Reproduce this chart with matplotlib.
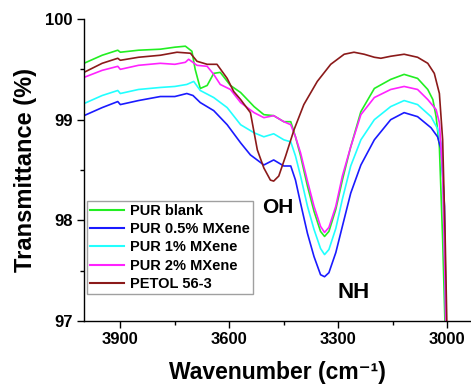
import matplotlib
matplotlib.use("Agg")
import matplotlib.pyplot as plt
from matplotlib.ticker import MultipleLocator

plt.rcParams["font.family"] = ["Liberation Sans", "DejaVu Sans"]
plt.rcParams["font.weight"] = "bold"

# FTIR transmittance, wavenumber (cm-1) vs T (%)
WN_BLANK = [4000, 3950, 3907, 3900, 3850, 3790, 3750, 3721, 3703, 3694, 3680, 3661, 3643,
            3625, 3597, 3569, 3532, 3505, 3478, 3450, 3431, 3418, 3404, 3385, 3367, 3349,
            3338, 3326, 3307, 3289, 3266, 3238, 3201, 3156, 3119, 3082, 3054, 3040, 3031,
            3022, 3013, 3006, 3000]
T_BLANK = [99.56, 99.64, 99.69, 99.67, 99.69, 99.70, 99.72, 99.73, 99.68, 99.50, 99.31,
           99.34, 99.46, 99.47, 99.34, 99.27, 99.13, 99.05, 99.04, 98.98, 98.98, 98.83,
           98.64, 98.34, 98.09, 97.89, 97.84, 97.89, 98.11, 98.40, 98.73, 99.08, 99.31,
           99.40, 99.45, 99.41, 99.30, 99.20, 99.03, 98.73, 97.81, 96.9, 96.0]

WN_05 = [4000, 3950, 3907, 3900, 3850, 3790, 3750, 3717, 3700, 3680, 3643, 3606, 3569,
         3542, 3505, 3478, 3450, 3431, 3418, 3404, 3385, 3367, 3349, 3338, 3326, 3307,
         3289, 3266, 3238, 3201, 3156, 3119, 3082, 3045, 3027, 3017, 3008, 3004, 3000]
T_05 = [99.04, 99.12, 99.18, 99.15, 99.19, 99.23, 99.23, 99.26, 99.24, 99.17, 99.09,
        98.95, 98.77, 98.65, 98.55, 98.60, 98.54, 98.54, 98.40, 98.17, 97.87, 97.64,
        97.46, 97.44, 97.48, 97.68, 97.94, 98.27, 98.55, 98.80, 99.00, 99.07, 99.03,
        98.92, 98.83, 98.70, 98.14, 97.0, 96.0]

WN_1 = [4000, 3950, 3907, 3900, 3850, 3790, 3750, 3717, 3698, 3680, 3643, 3606, 3569,
        3532, 3505, 3478, 3450, 3431, 3418, 3404, 3385, 3367, 3349, 3338, 3326, 3307,
        3289, 3266, 3238, 3201, 3156, 3119, 3082, 3045, 3027, 3017, 3011, 3005, 3000]
T_1 = [99.16, 99.24, 99.29, 99.26, 99.30, 99.32, 99.33, 99.35, 99.38, 99.29, 99.22,
       99.12, 98.95, 98.87, 98.83, 98.86, 98.80, 98.78, 98.64, 98.44, 98.14, 97.91,
       97.72, 97.66, 97.71, 97.92, 98.21, 98.54, 98.80, 99.00, 99.13, 99.19, 99.15,
       99.03, 98.91, 98.76, 98.30, 97.2, 96.0]

WN_2 = [4000, 3950, 3907, 3900, 3850, 3790, 3750, 3721, 3712, 3689, 3661, 3643, 3625,
        3597, 3569, 3532, 3505, 3478, 3450, 3431, 3418, 3404, 3385, 3367, 3349, 3338,
        3326, 3307, 3289, 3266, 3238, 3201, 3156, 3119, 3082, 3054, 3031, 3022, 3013,
        3006, 3000]
T_2 = [99.42, 99.49, 99.53, 99.50, 99.54, 99.56, 99.55, 99.57, 99.60, 99.54, 99.53,
       99.45, 99.35, 99.30, 99.17, 99.07, 99.02, 99.04, 98.98, 98.95, 98.83, 98.67,
       98.39, 98.14, 97.94, 97.88, 97.93, 98.14, 98.44, 98.73, 99.05, 99.22, 99.30,
       99.33, 99.30, 99.20, 99.10, 98.97, 98.48, 97.3, 96.0]

WN_PETOL = [4000, 3950, 3907, 3900, 3850, 3790, 3744, 3707, 3689, 3661, 3634, 3606, 3588,
            3569, 3542, 3523, 3505, 3487, 3478, 3464, 3445, 3422, 3395, 3358, 3321, 3284,
            3257, 3229, 3201, 3183, 3156, 3119, 3082, 3054, 3036, 3022, 3013, 3006, 3001,
            2997]
T_PETOL = [99.47, 99.56, 99.61, 99.59, 99.62, 99.64, 99.67, 99.66, 99.58, 99.55, 99.55,
           99.41, 99.28, 99.20, 99.07, 98.70, 98.52, 98.40, 98.39, 98.44, 98.64, 98.90,
           99.15, 99.38, 99.55, 99.65, 99.67, 99.65, 99.62, 99.61, 99.63, 99.65, 99.62,
           99.56, 99.46, 99.26, 98.80, 97.81, 96.9, 96.0]

LABELS = ["PUR blank", "PUR 0.5% MXene", "PUR 1% MXene", "PUR 2% MXene", "PETOL 56-3"]
COLORS = ["#22ee22", "#1a1aff", "#22ffff", "#ff22ff", "#8b1a1a"]
SERIES = [(WN_BLANK, T_BLANK), (WN_05, T_05), (WN_1, T_1), (WN_2, T_2), (WN_PETOL, T_PETOL)]

fig = plt.figure(figsize=(4.71, 3.84), dpi=100)
ax = fig.add_axes([0.1783, 0.164, 0.8217, 0.7865])

for (wn, t), lab, col in zip(SERIES, LABELS, COLORS):
    ax.plot(wn, t, color=col, lw=1.2, label=lab)

ax.set_xlim(4000, 2935)
ax.set_ylim(97, 100)
ax.xaxis.set_major_locator(MultipleLocator(300))
ax.xaxis.set_minor_locator(MultipleLocator(150))
ax.yaxis.set_major_locator(MultipleLocator(1))
ax.yaxis.set_minor_locator(MultipleLocator(0.5))
ax.tick_params(which="major", direction="out", length=5, width=1, labelsize=12, pad=3)
ax.tick_params(which="minor", direction="out", length=3, width=1)
ax.spines["top"].set_visible(False)
ax.spines["right"].set_visible(False)
for side in ("left", "bottom"):
    ax.spines[side].set_linewidth(1)

ax.set_xlabel("Wavenumber (cm\u207b\u00b9)", fontsize=16.5, fontweight="bold", labelpad=10)
ax.set_ylabel("Transmittance (%)", fontsize=17, fontweight="bold", labelpad=6)

ax.text(3468, 98.13, "OH", fontsize=15, fontweight="bold", ha="center", va="center")
ax.text(3259, 97.28, "NH", fontsize=16, fontweight="bold", ha="center", va="center")

leg = ax.legend(loc="lower left", bbox_to_anchor=(0.0085, 0.089), fontsize=10.5,
                frameon=True, fancybox=False, edgecolor="#888888", handlelength=2.3,
                labelspacing=0.3, borderpad=0.2, handletextpad=0.45, borderaxespad=0)
leg.get_frame().set_linewidth(1)
for line in leg.get_lines():
    line.set_linewidth(1.5)

fig.savefig("out.png", dpi=100)
